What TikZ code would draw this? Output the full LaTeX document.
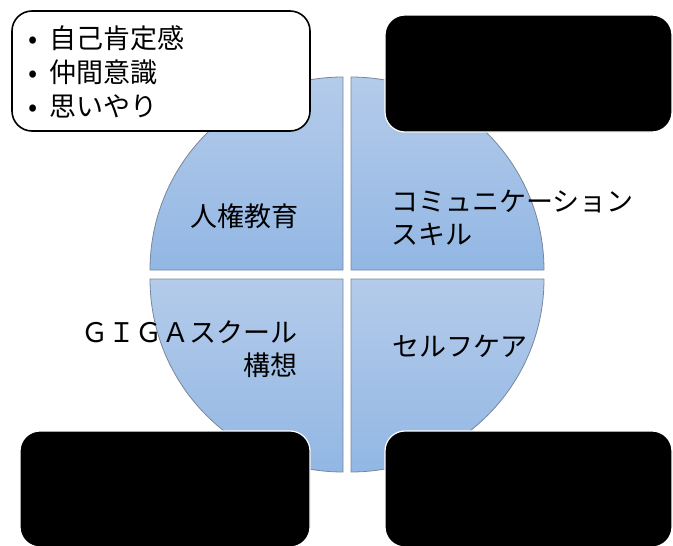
\documentclass[tikz,border=0pt]{standalone}
\usepackage{fontspec}
\newfontfamily\jp{Noto Sans CJK JP}
\definecolor{qtop}{RGB}{180,203,234}
\definecolor{qbot}{RGB}{146,183,228}
\definecolor{qline}{RGB}{120,135,155}
\begin{document}
\begin{tikzpicture}[x=1pt,y=1pt,
  quad/.style={top color=qtop,bottom color=qbot,draw=qline,line width=0.8pt},
  lbl/.style={inner sep=0pt,font=\jp\fontsize{27}{33}\selectfont,text=black},
  whitebox/.style={fill=white,draw=black,line width=1.6pt,rounded corners=20pt},
  blackbox/.style={fill=black,draw=white,line width=1.2pt,rounded corners=20pt}]
\useasboundingbox (0,0) rectangle (673,-546);
% quadrants
\path[quad] (343,-270) -- (150,-270) arc[start angle=180,end angle=90,radius=193pt] -- cycle;
\path[quad] (351,-270) -- (351,-77) arc[start angle=90,end angle=0,radius=193pt] -- cycle;
\path[quad] (343,-279) -- (150,-279) arc[start angle=180,end angle=270,radius=193pt] -- cycle;
\path[quad] (351,-279) -- (544,-279) arc[start angle=0,end angle=-90,radius=193pt] -- cycle;
% labels
\node[lbl] (jinken) at (244,-216) {人権教育};
\node[lbl,anchor=west,align=left] (comm) at (391,-218) {コミュニケーション\\スキル};
\node[lbl,anchor=east,align=right] (giga) at (298,-349) {ＧＩＧＡスクール\\構想};
\node[lbl,anchor=west] (self) at (392,-346) {セルフケア};
% corner boxes
\draw[whitebox] (12,-11) rectangle (310,-131);
\draw[blackbox] (385,-15) rectangle (672,-132);
\draw[blackbox] (20,-431) rectangle (310,-547);
\draw[blackbox] (385,-431) rectangle (672,-547);
\node[lbl,anchor=west,align=left,font=\jp\fontsize{27}{34}\selectfont] (list) at (25,-72)
  {\makebox[16pt][c]{•}\hspace{8pt}自己肯定感\\\makebox[16pt][c]{•}\hspace{8pt}仲間意識\\\makebox[16pt][c]{•}\hspace{8pt}思いやり};
\end{tikzpicture}
\end{document}
